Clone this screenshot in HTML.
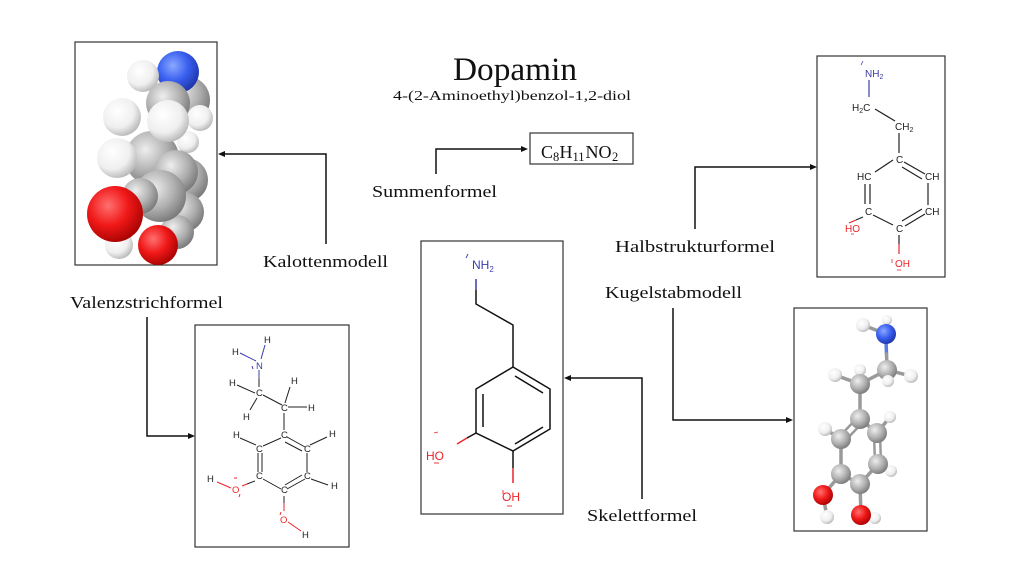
<!DOCTYPE html>
<html><head><meta charset="utf-8"><style>
html,body{margin:0;padding:0;background:#fff;}
svg{display:block;}
.lab{font-family:"Liberation Serif",serif;fill:#111;}
.ch{font-family:"Liberation Sans",sans-serif;}
</style></head><body>
<svg width="1024" height="576" viewBox="0 0 1024 576" xmlns="http://www.w3.org/2000/svg">
<defs>
<radialGradient id="gG" cx="0.38" cy="0.35" r="0.72"><stop offset="0" stop-color="#eeeeee"/><stop offset="0.55" stop-color="#b0b0b0"/><stop offset="1" stop-color="#727272"/></radialGradient>
<radialGradient id="gW" cx="0.38" cy="0.35" r="0.72"><stop offset="0" stop-color="#ffffff"/><stop offset="0.6" stop-color="#efefef"/><stop offset="1" stop-color="#b0b0b0"/></radialGradient>
<radialGradient id="gB" cx="0.38" cy="0.35" r="0.72"><stop offset="0" stop-color="#8aa8ff"/><stop offset="0.5" stop-color="#3a60f0"/><stop offset="1" stop-color="#1a30a0"/></radialGradient>
<radialGradient id="gR" cx="0.38" cy="0.35" r="0.72"><stop offset="0" stop-color="#ff7070"/><stop offset="0.5" stop-color="#f01818"/><stop offset="1" stop-color="#a00000"/></radialGradient>
</defs>
<rect width="1024" height="576" fill="#fff"/>

<!-- Titles -->
<text class="lab" x="453" y="80" font-size="33" textLength="124" lengthAdjust="spacingAndGlyphs">Dopamin</text>
<text class="lab" x="393" y="100" font-size="14" textLength="238" lengthAdjust="spacingAndGlyphs" fill="#222">4-(2-Aminoethyl)benzol-1,2-diol</text>

<!-- Labels -->
<text class="lab" x="372" y="197" font-size="17" textLength="125" lengthAdjust="spacingAndGlyphs">Summenformel</text>
<text class="lab" x="263" y="267" font-size="17" textLength="125" lengthAdjust="spacingAndGlyphs">Kalottenmodell</text>
<text class="lab" x="70" y="308" font-size="17" textLength="153" lengthAdjust="spacingAndGlyphs">Valenzstrichformel</text>
<text class="lab" x="615" y="252" font-size="17" textLength="160" lengthAdjust="spacingAndGlyphs">Halbstrukturformel</text>
<text class="lab" x="605" y="298" font-size="17" textLength="137" lengthAdjust="spacingAndGlyphs">Kugelstabmodell</text>
<text class="lab" x="587" y="521" font-size="17" textLength="110" lengthAdjust="spacingAndGlyphs">Skelettformel</text>

<!-- Summenformel box -->
<rect x="530" y="133" width="103" height="31" fill="none" stroke="#333" stroke-width="1.2"/>
<g class="lab">
<text x="541" y="158" font-size="18">C</text>
<text x="553" y="161" font-size="12.5">8</text>
<text x="559.5" y="158" font-size="18">H</text>
<text x="572.5" y="161" font-size="12.5">11</text>
<text x="585.5" y="158" font-size="18">N</text>
<text x="598.5" y="158" font-size="18">O</text>
<text x="612" y="161" font-size="12.5">2</text>
</g>

<!-- Connectors -->
<g fill="none" stroke="#111" stroke-width="1.5">
<polyline points="436,174 436,149 522,149"/>
<polyline points="326,244 326,154 224,154"/>
<polyline points="147,317 147,436 189,436"/>
<polyline points="695,229 695,167 811,167"/>
<polyline points="642,499 642,378 570,378"/>
<polyline points="673,308 673,420 787,420"/>
</g>
<g fill="#111">
<polygon points="528,149 521,146 521,152"/>
<polygon points="218,154 225,151 225,157"/>
<polygon points="195,436 188,433 188,439"/>
<polygon points="817,167 810,164 810,170"/>
<polygon points="564,378 571,375 571,381"/>
<polygon points="793,420 786,417 786,423"/>
</g>

<!-- Boxes -->
<g fill="none" stroke="#333" stroke-width="1.2">
<rect x="75" y="42" width="142" height="223"/>
<rect x="817" y="56" width="128" height="221"/>
<rect x="421" y="241" width="142" height="273"/>
<rect x="195" y="325" width="154" height="222"/>
<rect x="794" y="308" width="133" height="223"/>
</g>

<!-- Kalottenmodell -->
<g>
<circle cx="186" cy="100" r="24" fill="url(#gG)"/>
<circle cx="186" cy="180" r="22" fill="url(#gG)"/>
<circle cx="184" cy="212" r="20" fill="url(#gG)"/>
<circle cx="177" cy="232" r="17" fill="url(#gG)"/>
<circle cx="188" cy="142" r="11" fill="url(#gW)"/>
<circle cx="152" cy="158" r="27" fill="url(#gG)"/>
<circle cx="176" cy="172" r="22" fill="url(#gG)"/>
<circle cx="178" cy="72" r="21" fill="url(#gB)"/>
<circle cx="143" cy="76" r="16" fill="url(#gW)"/>
<circle cx="168" cy="103" r="22" fill="url(#gG)"/>
<circle cx="200" cy="118" r="13" fill="url(#gW)"/>
<circle cx="122" cy="117" r="19" fill="url(#gW)"/>
<circle cx="168" cy="121" r="21" fill="url(#gW)"/>
<circle cx="117" cy="158" r="20" fill="url(#gW)"/>
<circle cx="160" cy="196" r="26" fill="url(#gG)"/>
<circle cx="140" cy="196" r="18" fill="url(#gG)"/>
<circle cx="158" cy="245" r="20" fill="url(#gR)"/>
<circle cx="119" cy="245" r="14" fill="url(#gW)"/>
<circle cx="115" cy="214" r="28" fill="url(#gR)"/>
</g>

<!-- Halbstrukturformel -->
<g class="ch" font-size="10">
<text x="865" y="77" fill="#3c3ca8">NH<tspan font-size="7" dy="2">2</tspan></text>
<line x1="861" y1="65" x2="863" y2="61" stroke="#3c3ca8" stroke-width="0.8"/>
<line x1="869" y1="80" x2="869" y2="97" stroke="#3c3ca8" stroke-width="1.2"/>
<text x="852" y="111" fill="#222">H<tspan font-size="7" dy="2">2</tspan><tspan dy="-2">C</tspan></text>
<text x="895" y="130" fill="#222">CH<tspan font-size="7" dy="2">2</tspan></text>
<text x="896" y="163" fill="#222">C</text>
<text x="857" y="180" fill="#222">HC</text>
<text x="925" y="180" fill="#222">CH</text>
<text x="865" y="215" fill="#222">C</text>
<text x="925" y="215" fill="#222">CH</text>
<text x="896" y="232" fill="#222">C</text>
<text x="845" y="232" fill="#e8262b">HO</text>
<text x="895" y="267" fill="#e8262b">OH</text>
<g stroke="#e8262b" stroke-width="0.8"><line x1="851" y1="222" x2="854" y2="221"/><line x1="851" y1="234" x2="854" y2="234"/><line x1="892" y1="259" x2="892" y2="263"/><line x1="897" y1="270" x2="901" y2="270"/></g>
<g stroke="#222" stroke-width="1.2" fill="none">
<line x1="875" y1="109" x2="895" y2="121"/>
<line x1="899" y1="133" x2="899" y2="153"/>
<line x1="904" y1="162" x2="925" y2="174"/>
<line x1="902" y1="167" x2="922" y2="179"/>
<line x1="893" y1="160" x2="875" y2="172"/>
<line x1="865" y1="184" x2="865" y2="204"/>
<line x1="870" y1="184" x2="870" y2="204"/>
<line x1="928" y1="183" x2="928" y2="205"/>
<line x1="873" y1="215" x2="893" y2="225"/>
<line x1="905" y1="226" x2="925" y2="214"/>
<line x1="902" y1="221" x2="922" y2="209"/>
<line x1="863" y1="217" x2="856" y2="220"/>
<line x1="899" y1="235" x2="899" y2="244"/>
</g>
<g stroke="#e8262b" stroke-width="1.2"><line x1="856" y1="220" x2="849" y2="223"/><line x1="899" y1="244" x2="899" y2="254"/></g>
</g>

<!-- Skelettformel -->
<g class="ch">
<text x="472" y="269" font-size="12" fill="#3c3ca8">NH<tspan font-size="8" dy="3">2</tspan></text>
<line x1="466" y1="258" x2="468" y2="254" stroke="#3c3ca8" stroke-width="0.9"/>
<line x1="476" y1="279" x2="476" y2="290" stroke="#3c3ca8" stroke-width="1.5"/>
<g stroke="#111" stroke-width="1.5" fill="none" stroke-linejoin="miter">
<polyline points="476,290 476,304 513,325 513,367"/>
<polygon points="513,367 550,389 550,429 513,451 476,433 476,389"/>
<line x1="515" y1="376" x2="543" y2="393"/>
<line x1="483" y1="394" x2="483" y2="427"/>
<line x1="543" y1="427" x2="515" y2="444"/>
<line x1="476" y1="433" x2="467" y2="438"/>
<line x1="513" y1="451" x2="513" y2="468"/>
</g>
<g stroke="#e8262b" stroke-width="1.5"><line x1="467" y1="438" x2="457" y2="444"/><line x1="513" y1="468" x2="513" y2="483"/></g>
<text x="426" y="460" font-size="12" fill="#e8262b">HO</text>
<text x="502" y="501" font-size="12" fill="#e8262b">OH</text>
<g stroke="#e8262b" stroke-width="0.9"><line x1="434" y1="433" x2="438" y2="432"/><line x1="434" y1="463" x2="439" y2="463"/><line x1="503" y1="490" x2="503" y2="494"/><line x1="507" y1="506" x2="512" y2="506"/></g>
</g>

<!-- Valenzstrichformel -->
<g class="ch" font-size="9.5">
<g stroke="#3c3ca8" stroke-width="1" fill="none">
<line x1="265" y1="345" x2="261" y2="359"/>
<line x1="240" y1="353" x2="256" y2="361"/>
<line x1="259" y1="370" x2="259" y2="379"/>
<line x1="252" y1="366" x2="253" y2="369"/>
</g>
<g stroke="#222" stroke-width="1" fill="none">
<line x1="259" y1="379" x2="259" y2="387"/>
<line x1="237" y1="385" x2="255" y2="393"/>
<line x1="250" y1="410" x2="257" y2="398"/>
<line x1="263" y1="395" x2="282" y2="405"/>
<line x1="290" y1="387" x2="285" y2="403"/>
<line x1="288" y1="407" x2="307" y2="407"/>
<line x1="284" y1="413" x2="284" y2="430"/>
<line x1="240" y1="438" x2="256" y2="445"/>
<line x1="281" y1="438" x2="263" y2="446"/>
<line x1="287" y1="437" x2="305" y2="447"/>
<line x1="285" y1="442" x2="302" y2="451"/>
<line x1="310" y1="445" x2="327" y2="437"/>
<line x1="258" y1="453" x2="258" y2="472"/>
<line x1="262" y1="453" x2="262" y2="472"/>
<line x1="307" y1="453" x2="307" y2="472"/>
<line x1="311" y1="479" x2="328" y2="485"/>
<line x1="263" y1="479" x2="281" y2="489"/>
<line x1="287" y1="489" x2="305" y2="479"/>
<line x1="285" y1="485" x2="302" y2="475"/>
<line x1="255" y1="481" x2="247" y2="484"/>
<line x1="284" y1="496" x2="284" y2="503"/>
</g>
<g stroke="#e8262b" stroke-width="1" fill="none">
<line x1="247" y1="484" x2="242" y2="486"/>
<line x1="217" y1="482" x2="231" y2="488"/>
<line x1="284" y1="503" x2="284" y2="511"/>
<line x1="288" y1="522" x2="301" y2="531"/>
<line x1="234" y1="478" x2="237" y2="478"/>
<line x1="240" y1="494" x2="239" y2="497"/>
<line x1="280" y1="515" x2="281" y2="512"/>
</g>
<text x="264" y="343" fill="#222">H</text>
<text x="232" y="355" fill="#222">H</text>
<text x="256" y="369" fill="#3c3ca8">N</text>
<text x="256" y="396" fill="#222">C</text>
<text x="229" y="386" fill="#222">H</text>
<text x="243" y="420" fill="#222">H</text>
<text x="281" y="411" fill="#222">C</text>
<text x="291" y="384" fill="#222">H</text>
<text x="308" y="411" fill="#222">H</text>
<text x="281" y="438" fill="#222">C</text>
<text x="233" y="438" fill="#222">H</text>
<text x="256" y="452" fill="#222">C</text>
<text x="304" y="452" fill="#222">C</text>
<text x="329" y="437" fill="#222">H</text>
<text x="256" y="479" fill="#222">C</text>
<text x="304" y="479" fill="#222">C</text>
<text x="331" y="489" fill="#222">H</text>
<text x="281" y="493" fill="#222">C</text>
<text x="232" y="493" fill="#e8262b">O</text>
<text x="207" y="482" fill="#222">H</text>
<text x="280" y="523" fill="#e8262b">O</text>
<text x="302" y="538" fill="#222">H</text>
</g>

<!-- Kugelstabmodell -->
<g stroke-linecap="round">
<g stroke="#9a9a9a" stroke-width="3.5">
<line x1="863" y1="325" x2="886" y2="334"/>
<line x1="887" y1="320" x2="886" y2="334"/>
<line x1="887" y1="370" x2="860" y2="384"/>
<line x1="887" y1="370" x2="911" y2="376"/>
<line x1="887" y1="370" x2="888" y2="380"/>
<line x1="860" y1="384" x2="835" y2="375"/>
<line x1="860" y1="384" x2="860" y2="370"/>
<line x1="860" y1="384" x2="860" y2="419"/>
<line x1="858" y1="417" x2="839" y2="437" stroke-width="2.5"/>
<line x1="863" y1="422" x2="845" y2="441" stroke-width="2.5"/>
<line x1="860" y1="419" x2="877" y2="433"/>
<line x1="874" y1="433" x2="875" y2="464" stroke-width="2.5"/>
<line x1="880" y1="433" x2="881" y2="464" stroke-width="2.5"/>
<line x1="841" y1="439" x2="841" y2="474"/>
<line x1="841" y1="474" x2="860" y2="484"/>
<line x1="878" y1="464" x2="860" y2="484"/>
<line x1="841" y1="474" x2="823" y2="495"/>
<line x1="860" y1="484" x2="861" y2="515"/>
<line x1="877" y1="433" x2="890" y2="417"/>
<line x1="878" y1="464" x2="891" y2="471"/>
<line x1="841" y1="439" x2="825" y2="429"/>
<line x1="823" y1="495" x2="827" y2="517"/>
<line x1="861" y1="515" x2="875" y2="518"/>
</g>
<line x1="886" y1="340" x2="886.5" y2="354" stroke="#5a7ae0" stroke-width="3.5"/>
<line x1="886.5" y1="354" x2="887" y2="366" stroke="#9a9a9a" stroke-width="3.5"/>
</g>
<circle cx="887" cy="320" r="5" fill="url(#gW)"/>
<circle cx="863" cy="325" r="7" fill="url(#gW)"/>
<circle cx="886" cy="334" r="10" fill="url(#gB)"/>
<circle cx="860" cy="370" r="6" fill="url(#gW)"/>
<circle cx="887" cy="370" r="10" fill="url(#gG)"/>
<circle cx="911" cy="376" r="7" fill="url(#gW)"/>
<circle cx="888" cy="381" r="6" fill="url(#gW)"/>
<circle cx="835" cy="375" r="7" fill="url(#gW)"/>
<circle cx="860" cy="384" r="10" fill="url(#gG)"/>
<circle cx="890" cy="417" r="6" fill="url(#gW)"/>
<circle cx="877" cy="433" r="10" fill="url(#gG)"/>
<circle cx="860" cy="419" r="10" fill="url(#gG)"/>
<circle cx="825" cy="429" r="7" fill="url(#gW)"/>
<circle cx="841" cy="439" r="10" fill="url(#gG)"/>
<circle cx="891" cy="471" r="6" fill="url(#gW)"/>
<circle cx="878" cy="464" r="10" fill="url(#gG)"/>
<circle cx="841" cy="474" r="10" fill="url(#gG)"/>
<circle cx="860" cy="484" r="10" fill="url(#gG)"/>
<circle cx="827" cy="517" r="7" fill="url(#gW)"/>
<circle cx="823" cy="495" r="10" fill="url(#gR)"/>
<circle cx="875" cy="518" r="6" fill="url(#gW)"/>
<circle cx="861" cy="515" r="10" fill="url(#gR)"/>
</svg>
</body></html>
